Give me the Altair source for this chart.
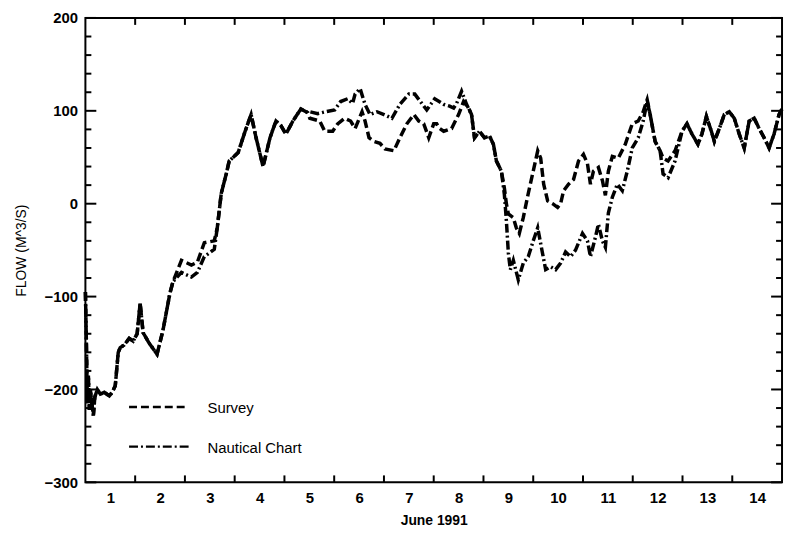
import altair as alt
import pandas as pd

# ---- data (day of June 1991, flow m^3/s) ----
survey_day = [1.00, 1.02, 1.04, 1.06, 1.08, 1.10, 1.13, 1.16, 1.19, 1.24, 1.30, 1.38, 1.48, 1.54, 1.60, 1.66,
              1.70, 1.78, 1.88, 1.96, 2.04, 2.10, 2.16, 2.28, 2.44, 2.56, 2.70, 2.76,
              2.93, 3.13, 3.25, 3.39, 3.59, 3.65,
              3.73, 3.83, 3.89, 4.07, 4.21, 4.33, 4.43, 4.57, 4.71, 4.83, 4.93, 5.03, 5.17, 5.33, 5.47,
              5.51, 5.71, 5.81, 5.97, 6.07, 6.21, 6.33, 6.42, 6.56, 6.62, 6.70, 6.80, 6.92, 7.02, 7.20,
              7.32, 7.46, 7.60, 7.70, 7.80, 7.90, 8.00, 8.06, 8.12, 8.20, 8.36, 8.50, 8.60, 8.70,
              8.76, 8.82, 8.92, 9.02, 9.12, 9.20, 9.26, 9.36,
              9.42, 9.46, 9.50, 9.60, 9.66, 9.72, 9.80, 9.90, 10.00, 10.09, 10.15, 10.21, 10.29, 10.39,
              10.49, 10.55, 10.61, 10.71, 10.81, 10.91, 11.01, 11.09, 11.15, 11.21, 11.31, 11.39, 11.45,
              11.51, 11.59, 11.71, 11.85, 11.99, 12.11, 12.21, 12.29,
              12.35, 12.45, 12.55, 12.61, 12.71, 12.85,
              12.99, 13.09, 13.19, 13.31, 13.39, 13.48, 13.58, 13.64, 13.74, 13.84, 13.94, 14.04, 14.14,
              14.24, 14.34, 14.44, 14.54, 14.64, 14.74, 14.84, 14.94, 15.00]
survey_flow = [-95, -150, -215, -185, -222, -200, -215, -228, -208, -200, -205, -203, -207, -203, -196, -160,
               -155, -152, -145, -148, -140, -107, -139, -150, -162, -136, -96, -84,
               -61, -66, -63, -42, -40, -26,
               11, 32, 46, 55, 78, 96, 71, 40, 71, 89, 84, 75, 89, 102, 98,
               92, 89, 78, 78, 86, 92, 89, 81, 99, 89, 71, 67, 65, 59, 57,
               71, 86, 96, 89, 86, 71, 86, 86, 81, 78, 81, 96, 110, 103,
               96, 71, 78, 71, 73, 64, 46, 35,
               17, 0, -11, -15, -26, -32, -15, 11, 35, 57, 49, 21, 3, 0,
               -4, 0, 14, 21, 26, 46, 53, 43, 21, 35, 39, 25, 9,
               35, 51, 49, 64, 86, 89, 99, 112,
               96, 67, 57, 49, 46, 57,
               78, 86, 75, 64, 75, 94, 78, 67, 81, 96, 99, 92, 75,
               60, 89, 92, 81, 71, 60, 75, 96, 102]

nautical_day = [1.00, 1.02, 1.04, 1.06, 1.08, 1.10, 1.13, 1.16, 1.19, 1.24, 1.30, 1.38, 1.48, 1.54, 1.60, 1.66,
                1.70, 1.78, 1.88, 1.96, 2.04, 2.10, 2.16, 2.28, 2.44, 2.56, 2.70, 2.76,
                2.93, 3.13, 3.25, 3.39, 3.59, 3.65,
                3.73, 3.83, 3.89, 4.07, 4.21, 4.33, 4.43, 4.57, 4.71, 4.83, 4.93, 5.03, 5.17, 5.33, 5.47,
                5.51, 5.67, 5.83, 6.01, 6.13, 6.27, 6.37, 6.42, 6.52, 6.62, 6.72, 6.86, 7.00, 7.16, 7.32,
                7.50, 7.62, 7.76, 7.86, 8.02, 8.20, 8.32, 8.40, 8.46, 8.56, 8.66,
                8.76, 8.82, 8.92, 9.02, 9.12, 9.20, 9.26, 9.36,
                9.42, 9.46, 9.50, 9.54, 9.60, 9.70, 9.80, 9.90, 10.00, 10.09, 10.15, 10.25, 10.35, 10.45,
                10.55, 10.65, 10.75, 10.85, 10.99, 11.09, 11.15, 11.25, 11.31, 11.39, 11.45, 11.51, 11.59,
                11.69, 11.79, 11.89, 11.99, 12.11, 12.21, 12.29,
                12.35, 12.45, 12.55, 12.61, 12.71, 12.85,
                12.99, 13.09, 13.19, 13.31, 13.39, 13.48, 13.58, 13.64, 13.74, 13.84, 13.94, 14.04, 14.14,
                14.24, 14.34, 14.44, 14.54, 14.64, 14.74, 14.84, 14.94, 15.00]
nautical_flow = [-95, -150, -215, -185, -222, -200, -215, -228, -208, -200, -205, -203, -207, -203, -196, -160,
                 -155, -152, -145, -148, -140, -107, -139, -150, -162, -136, -96, -84,
                 -74, -79, -74, -57, -49, -26,
                 11, 32, 46, 55, 78, 96, 71, 40, 71, 89, 84, 75, 89, 102, 98,
                 99, 97, 99, 101, 110, 113, 108, 118, 124, 107, 96, 99, 96, 92, 107,
                 118, 118, 108, 101, 113, 107, 105, 103, 108, 121, 107,
                 96, 71, 78, 71, 73, 64, 46, 35,
                 10, -18, -53, -71, -61, -82, -64, -57, -40, -26, -43, -71, -68, -71,
                 -64, -52, -57, -50, -32, -40, -57, -36, -22, -40, -47, -10, 7,
                 21, 14, 35, 60, 71, 89, 110,
                 96, 67, 57, 32, 28, 46,
                 78, 86, 75, 64, 75, 94, 78, 67, 81, 96, 99, 92, 75,
                 60, 89, 92, 81, 71, 60, 75, 96, 102]

series_names = ["Survey", "Nautical Chart"]
y_major = [-300, -200, -100, 0, 100, 200]
y_minor = [v for v in range(-300, 201, 20) if v % 100 != 0]
x_tick_days = list(range(2, 15))
day_labels = list(range(1, 15))

FONT = "Liberation Sans"
W, H = 702, 468
DAY_PX = W / 14.0

df = pd.concat([
    pd.DataFrame({"day": survey_day, "flow": survey_flow, "series": "Survey"}),
    pd.DataFrame({"day": nautical_day, "flow": nautical_flow, "series": "Nautical Chart"}),
], ignore_index=True)
df["order"] = df.index

x_scale = alt.Scale(domain=[1, 15], nice=False, zero=False)
y_scale = alt.Scale(domain=[-300, 200], nice=False, zero=False)

lines = alt.Chart(df).mark_line(strokeWidth=3.5, color="black", strokeCap="butt").encode(
    x=alt.X("day:Q", scale=x_scale,
            axis=alt.Axis(values=day_labels, labelOffset=DAY_PX / 2, ticks=False, domain=False, grid=False,
                          labelFlush=False, labelOverlap=False, labelFont=FONT, labelFontSize=15,
                          labelFontWeight="bold", labelColor="black", labelPadding=8,
                          title="June 1991", titleFont=FONT, titleFontSize=14, titleFontWeight="bold",
                          titleColor="black", titlePadding=8)),
    y=alt.Y("flow:Q", scale=y_scale,
            axis=alt.Axis(values=y_major, ticks=False, domain=False, grid=False, labelFont=FONT,
                          labelFontSize=15, labelFontWeight="bold", labelColor="black", labelPadding=8,
                          title="FLOW (M^3/S)", titleFont=FONT, titleFontSize=14, titleFontWeight="normal",
                          titleColor="black", titlePadding=16)),
    strokeDash=alt.StrokeDash("series:N", scale=alt.Scale(domain=series_names, range=[[9, 4], [9, 3, 2, 3]]),
                              legend=None),
    order="order:Q",
)

ymaj_df = pd.DataFrame({"flow": y_major})
ymin_df = pd.DataFrame({"flow": y_minor})
xt_df = pd.DataFrame({"day": x_tick_days})

tick_style = dict(color="black", strokeWidth=2)
left_major = alt.Chart(ymaj_df).mark_rule(**tick_style).encode(y="flow:Q", x=alt.value(0), x2=alt.value(11))
left_minor = alt.Chart(ymin_df).mark_rule(**tick_style).encode(y="flow:Q", x=alt.value(0), x2=alt.value(6))
right_major = alt.Chart(ymaj_df).mark_rule(**tick_style).encode(y="flow:Q", x=alt.value(W), x2=alt.value(W - 11))
right_minor = alt.Chart(ymin_df).mark_rule(**tick_style).encode(y="flow:Q", x=alt.value(W), x2=alt.value(W - 6))
top_ticks = alt.Chart(xt_df).mark_rule(**tick_style).encode(x="day:Q", y=alt.value(0), y2=alt.value(7))
bot_ticks = alt.Chart(xt_df).mark_rule(**tick_style).encode(x="day:Q", y=alt.value(H), y2=alt.value(H - 7))

# legend (drawn inside the plot, lower left)
leg_s = pd.DataFrame({"label": ["Survey"]})
leg_n = pd.DataFrame({"label": ["Nautical Chart"]})
leg_line_s = alt.Chart(leg_s).mark_rule(color="black", strokeWidth=2.5, strokeDash=[8, 4]).encode(
    x=alt.value(44), x2=alt.value(104), y=alt.value(392))
leg_line_n = alt.Chart(leg_n).mark_rule(color="black", strokeWidth=2.5, strokeDash=[9, 3, 2, 3]).encode(
    x=alt.value(44), x2=alt.value(104), y=alt.value(432))
leg_text_s = alt.Chart(leg_s).mark_text(align="left", baseline="middle", font=FONT, fontSize=15,
                                        color="black").encode(text="label:N", x=alt.value(123), y=alt.value(393))
leg_text_n = alt.Chart(leg_n).mark_text(align="left", baseline="middle", font=FONT, fontSize=15,
                                        color="black").encode(text="label:N", x=alt.value(123), y=alt.value(433))

chart = alt.layer(
    lines, left_major, left_minor, right_major, right_minor, top_ticks, bot_ticks,
    leg_line_s, leg_line_n, leg_text_s, leg_text_n,
).properties(
    width=W, height=H,
    padding={"left": 78, "top": 8, "right": 3, "bottom": 46},
    autosize=alt.AutoSizeParams(type="none"),
).configure(
    font=FONT, background="white",
    view=alt.ViewConfig(stroke="black", strokeWidth=2),
)

chart.save("out.html", embed_options={"renderer": "svg", "actions": False})
